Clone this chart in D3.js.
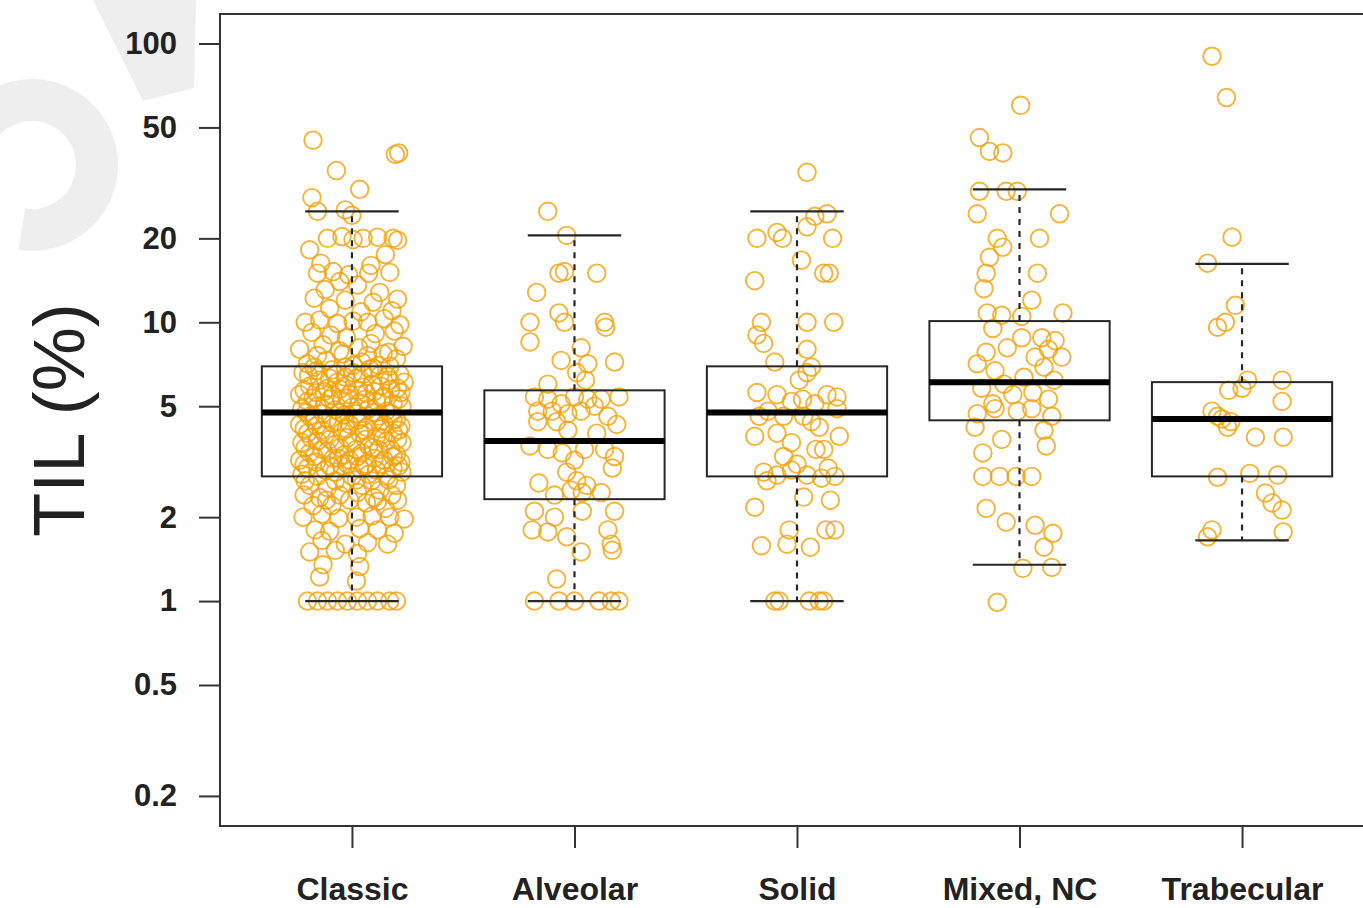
<!DOCTYPE html>
<html><head><meta charset="utf-8">
<script src="https://cdn.jsdelivr.net/npm/d3@7"></script>
<style>body{margin:0;background:#fff}svg{display:block}</style>
</head><body>
<svg id="chart" width="1363" height="908"></svg>
<script>
// Histologic subtypes along the x axis
const categories = ["Classic", "Alveolar", "Solid", "Mixed, NC", "Trabecular"];
// Log-axis tick values for TIL (%)
const yTicks = [0.2, 0.5, 1, 2, 5, 10, 20, 50, 100];
const yTickLabels = ["0.2", "0.5", "1", "2", "5", "10", "20", "50", "100"];
// Box summaries per subtype: [lower whisker, Q1, median, Q3, upper whisker]
const boxStats = [
  [1, 2.8, 4.75, 6.95, 25],
  [1, 2.32, 3.75, 5.7, 20.5],
  [1, 2.8, 4.75, 6.95, 25],
  [1.35, 4.45, 6.1, 10.1, 30],
  [1.65, 2.8, 4.5, 6.1, 16.2]
];
// Individual cases: [TIL %, horizontal jitter in category units]
const classicPts = [
  [45,-0.175],[40,0.195],[40.5,0.21],[35,-0.07],[30,0.035],[28,-0.18],[25,-0.155],[25.3,-0.03],[24.2,0.0],
  [20,-0.11],[20.3,-0.045],[19.8,0.005],[20,0.05],[20.2,0.115],[20,0.185],[19.7,0.205],
  [18.2,-0.19],[17.5,0.15],[16.3,-0.14],[16,0.085],
  [15,-0.155],[15.2,-0.085],[14.8,-0.015],[15,0.075],[15.1,0.17],
  [14,-0.055],[13.6,0.025],[13.1,-0.12],[12.8,0.125],
  [12.2,-0.17],[12,-0.03],[11.8,0.095],[12.1,0.205],
  [11.2,-0.1],[10.9,0.04],[11,0.18],
  [10,-0.21],[10.2,-0.145],[9.9,-0.065],[10.1,0.005],[10,0.07],[10.3,0.145],[9.8,0.215],
  [9.2,-0.18],[9,-0.095],[8.8,-0.025],[9.1,0.105],[9.3,0.19],
  [8,-0.235],[8.3,-0.13],[7.9,-0.055],[8.1,0.03],[8.4,0.085],[7.8,0.165],[8.2,0.23],
  [7.6,-0.155],[7.7,-0.04],[7.6,0.07],[7.7,0.14],
  [7.1,-0.2],[7.3,-0.115],[6.9,-0.03],[7.2,0.045],[7,0.12],[7.4,0.2],
  [6.9,-0.17],[6.75,-0.09],[7.0,0.005],[6.85,0.095],[6.95,0.17],
  [6.7,-0.16],[6.5,-0.075],[6.6,0.005],[6.8,0.08],[6.4,0.16],[6.6,-0.22],
  [6.45,-0.195],[6.35,-0.03],[6.5,0.05],[6.45,0.125],[6.5,0.215],
  [6.2,-0.145],[6.1,-0.065],[6.3,0.02],[6,0.09],[6.2,0.17],[6.1,0.235],[6.3,-0.1],
  [5.9,-0.19],[5.8,-0.11],[5.95,-0.025],[5.85,0.05],[5.9,0.13],[5.8,0.205],
  [5.7,-0.215],[5.65,-0.125],[5.75,-0.055],[5.7,0.03],[5.65,0.1],[5.75,0.175],
  [5.5,-0.235],[5.6,-0.16],[5.45,-0.085],[5.5,-0.01],[5.55,0.065],[5.4,0.145],[5.6,0.22],
  [5.35,-0.175],[5.3,-0.1],[5.35,-0.02],[5.3,0.06],[5.35,0.135],[5.3,0.21],
  [5.2,-0.2],[5.1,-0.12],[5.25,-0.045],[5.15,0.035],[5.2,0.11],[5.1,0.185],
  [4.9,-0.225],[5,-0.155],[4.85,-0.075],[4.95,0.0],[4.9,0.075],[4.8,0.155],[5,0.225],
  [4.75,-0.205],[4.7,-0.13],[4.75,-0.055],[4.7,0.02],[4.75,0.095],[4.7,0.175],
  [4.6,-0.19],[4.5,-0.11],[4.65,-0.035],[4.55,0.045],[4.6,0.12],[4.5,0.2],
  [4.45,-0.17],[4.4,-0.06],[4.45,0.025],[4.4,0.1],[4.45,0.185],
  [4.3,-0.235],[4.25,-0.16],[4.35,-0.085],[4.3,-0.01],[4.2,0.065],[4.3,0.145],[4.25,0.22],
  [4.15,-0.215],[4.1,-0.135],[4.15,-0.025],[4.1,0.055],[4.15,0.13],[4.1,0.21],
  [4,-0.2],[3.95,-0.12],[4.05,-0.045],[4,0.035],[3.9,0.11],[4,0.185],
  [3.85,-0.185],[3.8,-0.1],[3.85,-0.02],[3.8,0.06],[3.85,0.14],[3.8,0.205],
  [3.7,-0.225],[3.75,-0.155],[3.65,-0.075],[3.7,0.0],[3.6,0.075],[3.75,0.155],[3.7,0.225],
  [3.55,-0.21],[3.5,-0.135],[3.55,-0.055],[3.5,0.02],[3.55,0.095],[3.5,0.175],
  [3.4,-0.19],[3.45,-0.11],[3.35,-0.035],[3.4,0.045],[3.5,0.12],[3.35,0.2],
  [3.3,-0.17],[3.25,-0.06],[3.3,0.025],[3.25,0.1],[3.3,0.185],
  [3.2,-0.235],[3.15,-0.16],[3.25,-0.085],[3.2,-0.01],[3.1,0.065],[3.2,0.145],[3.15,0.22],
  [3.1,-0.215],[3.05,-0.1],[3.1,-0.02],[3.05,0.055],[3.1,0.13],[3.05,0.21],
  [3,-0.2],[2.95,-0.12],[3.05,-0.045],[3,0.035],[2.95,0.11],[3,0.185],
  [2.85,-0.225],[2.8,-0.155],[2.9,-0.075],[2.8,0.0],[2.85,0.075],[2.8,0.155],[2.9,0.225],
  [2.7,-0.21],[2.7,-0.075],[2.72,0.02],[2.7,0.09],[2.72,0.165],
  [2.6,-0.19],[2.55,-0.11],[2.65,-0.03],[2.6,0.045],[2.5,0.125],[2.6,0.2],
  [2.4,-0.215],[2.35,-0.145],[2.4,-0.055],[2.45,0.025],[2.35,0.1],[2.4,0.18],
  [2.3,-0.115],[2.3,-0.01],[2.28,0.115],[2.3,0.205],
  [2.2,-0.175],[2.2,-0.09],[2.25,0.065],[2.15,0.15],
  [2,-0.22],[2.05,-0.135],[1.98,-0.06],[2,0.02],[2.02,0.09],[2,0.17],[1.97,0.235],
  [1.8,-0.165],[1.78,-0.1],[1.82,0.035],[1.8,0.115],[1.75,0.19],
  [1.65,-0.135],[1.6,-0.03],[1.62,0.07],[1.6,0.16],
  [1.5,-0.19],[1.52,-0.075],[1.48,0.025],
  [1.35,-0.13],[1.33,0.035],[1.22,-0.145],[1.18,0.02],
  [1,-0.2],[1,-0.155],[1,-0.11],[1,-0.065],[1,-0.02],[1,0.025],[1,0.07],[1,0.115],[1,0.17],[1,0.2]
];
const alveolarPts = [
  [25,-0.12],[20.5,-0.035],[15,-0.07],[15.2,-0.045],[15,0.10],[12.8,-0.17],[10.8,-0.07],[10,-0.045],
  [10,0.135],[10,-0.2],[9.6,0.14],[8.5,-0.2],[8.1,0.03],[7.3,-0.06],[7.1,0.06],[7.2,0.18],[6.6,0.01],
  [6,-0.12],[6.2,0.05],
  [5.4,-0.18],[5.3,-0.12],[5.1,-0.06],[5.4,0.0],[5.3,0.06],[5.3,0.12],[5.4,0.2],[4.8,-0.165],[4.8,-0.1],
  [4.7,-0.03],[4.8,0.03],[4.4,-0.165],[4.4,-0.08],[4.3,0.19],[5,0.09],[4.6,0.15],[4.1,-0.03],[4.0,0.1],
  [3.5,-0.12],[3.4,-0.055],[3.5,0.045],[3.5,0.135],[3.3,0.18],[3.6,-0.2],[3.2,0.0],[3.0,0.17],[2.9,-0.035],
  [2.7,0.01],[2.6,0.055],[2.65,-0.16],[2.5,-0.015],[2.45,0.035],[2.45,0.12],[2.4,-0.09],
  [2.1,-0.18],[2.0,-0.09],[2.1,0.035],[2.1,0.18],[1.8,-0.19],[1.77,-0.12],[1.7,-0.035],[1.8,0.15],
  [1.6,0.165],[1.52,0.17],[1.5,0.03],[1.2,-0.08],
  [1,-0.18],[1,-0.07],[1,0.0],[1,0.11],[1,0.165],[1,0.2]
];
const solidPts = [
  [34.5,0.045],[24,0.08],[24.5,0.135],[20,-0.18],[21,-0.09],[20,-0.065],[20,0.16],[22,0.045],[16.7,0.02],
  [14.1,-0.19],[15,0.12],[15,0.145],[10,0.045],[10,0.165],[10,-0.16],[9,-0.18],[8.4,-0.15],[8,0.045],
  [6.9,0.065],[7.2,-0.1],[6.6,0.045],[6.2,0.01],
  [5.6,-0.18],[5.5,-0.09],[5.2,-0.025],[5.3,0.025],[5.1,0.08],[5.4,0.18],[5.5,0.135],[4.6,-0.17],
  [4.6,-0.06],[4.6,0.03],[4.4,0.065],[4.9,0.18],[4.8,-0.13],[3.9,-0.19],[4.0,-0.09],[3.7,-0.025],
  [3.5,0.085],[3.5,0.12],[3.9,0.19],[4.2,0.1],[3.3,-0.06],[3.1,0.0],
  [2.9,-0.15],[2.83,-0.09],[2.95,-0.025],[2.83,0.045],[2.76,0.11],[2.7,-0.135],[2.8,0.17],[3.0,0.14],
  [2.17,-0.19],[2.3,0.15],[2.36,0.03],[1.8,0.13],[1.8,0.17],[1.8,-0.035],[1.58,-0.16],[1.6,-0.045],
  [1.56,0.06],[1,-0.1],[1,-0.08],[1,0.055],[1,0.1],[1,0.12]
];
const mixedPts = [
  [60,0.005],[46,-0.18],[41,-0.135],[40.5,-0.075],[29.5,-0.18],[29.5,-0.06],[29.5,-0.01],[24.5,-0.19],
  [24.5,0.18],[20,-0.1],[20,0.09],[18.6,-0.075],[17.1,-0.135],[15,-0.15],[15,0.08],[13.2,-0.16],[12,0.055],
  [10.8,-0.145],[10.6,-0.08],[10.8,0.195],[10.5,0.01],
  [8.8,0.01],[8.8,0.1],[8.6,0.16],[8.1,-0.055],[7.1,-0.19],[7.5,0.07],[6.7,-0.11],[6.9,0.11],[7.5,0.19],
  [6,-0.07],[6.35,0.02],[6.2,0.155],[5.8,-0.17],[5.6,0.06],[5.3,0.13],[5.1,-0.12],[9.5,-0.12],[8,0.13],
  [7.8,-0.15],[5.5,-0.03],
  [4.7,-0.19],[4.9,-0.11],[4.8,-0.01],[4.9,0.055],[4.6,0.145],[4.1,0.11],[3.8,-0.08],[3.4,-0.165],
  [3.6,0.12],[4.2,-0.2],
  [2.8,-0.165],[2.8,-0.09],[2.8,-0.015],[2.8,0.055],[2.15,-0.15],[1.92,-0.06],[1.87,0.07],[1.75,0.15],
  [1.56,0.11],[1.31,0.015],[1.32,0.145],[0.99,-0.1]
];
const trabecularPts = [
  [90,-0.135],[64,-0.07],[20.2,-0.045],[16.3,-0.155],[11.5,-0.03],[9.6,-0.11],[10,-0.075],[6.2,0.025],
  [5.7,-0.06],[5.8,0.0],[6.2,0.18],[5.2,0.18],[4.8,-0.135],[4.6,-0.11],[4.2,-0.065],[3.87,0.06],
  [3.87,0.185],[4.5,-0.09],[2.78,-0.11],[2.87,0.035],[2.83,0.16],[2.44,0.105],[2.25,0.135],[2.12,0.18],
  [1.8,-0.135],[1.7,-0.155],[1.77,0.185],[4.4,-0.05]
];
const groupPoints = [classicPts, alveolarPts, solidPts, mixedPts, trabecularPts];

const svg = d3.select("#chart");
const plot = {left: 220, top: 14, right: 1374, bottom: 826};

// Faint background mark in the upper-left corner
const mark = svg.append("g").attr("fill", "#eeeeee");
mark.append("path")
  .attr("transform", "translate(32,165)")
  .attr("d", d3.arc()({innerRadius: 44, outerRadius: 86, startAngle: -0.95, endAngle: 3.3}));
mark.append("path").attr("d", "M93,0 L196,0 L194,88 L143,101 Z");

const x = d3.scaleLinear().domain([0.407, 5.593]).range([plot.left, plot.right]);
const y = d3.scaleLog().domain([0.156, 127.6]).range([plot.bottom, plot.top]);

const ink = "#262626";

// Jittered observations
const pts = svg.append("g");
groupPoints.forEach((arr, i) => {
  pts.selectAll(null).data(arr).enter().append("circle")
    .attr("cx", d => x(i + 1 + d[1]))
    .attr("cy", d => y(d[0]))
    .attr("r", 8.8)
    .attr("fill", "none")
    .attr("stroke", "#f2a20f")
    .attr("stroke-opacity", 0.82)
    .attr("stroke-width", 1.9);
});

// Box plots
const bw = 0.405, cap = 0.21;
const boxes = svg.append("g").selectAll("g").data(boxStats).enter().append("g");
boxes.append("line")
  .attr("x1", (d, i) => x(i + 1)).attr("x2", (d, i) => x(i + 1))
  .attr("y1", d => y(d[3])).attr("y2", d => y(d[4]))
  .attr("stroke", ink).attr("stroke-width", 2.2).attr("stroke-dasharray", "6,6");
boxes.append("line")
  .attr("x1", (d, i) => x(i + 1)).attr("x2", (d, i) => x(i + 1))
  .attr("y1", d => y(d[1])).attr("y2", d => y(d[0]))
  .attr("stroke", ink).attr("stroke-width", 2.2).attr("stroke-dasharray", "6,6");
[0, 4].forEach(k => {
  boxes.append("line")
    .attr("x1", (d, i) => x(i + 1 - cap)).attr("x2", (d, i) => x(i + 1 + cap))
    .attr("y1", d => y(d[k])).attr("y2", d => y(d[k]))
    .attr("stroke", ink).attr("stroke-width", 2.2);
});
boxes.append("rect")
  .attr("x", (d, i) => x(i + 1 - bw))
  .attr("width", (d, i) => x(i + 1 + bw) - x(i + 1 - bw))
  .attr("y", d => y(d[3]))
  .attr("height", d => y(d[1]) - y(d[3]))
  .attr("fill", "none").attr("stroke", ink).attr("stroke-width", 2);
boxes.append("line")
  .attr("x1", (d, i) => x(i + 1 - bw)).attr("x2", (d, i) => x(i + 1 + bw))
  .attr("y1", d => y(d[2])).attr("y2", d => y(d[2]))
  .attr("stroke", "#000").attr("stroke-width", 6);

// Plot frame (right edge runs past the canvas)
svg.append("path")
  .attr("d", `M${plot.right},${plot.top} H${plot.left} V${plot.bottom} H${plot.right}`)
  .attr("fill", "none").attr("stroke", "#333").attr("stroke-width", 2);

// Y axis
const yAxis = svg.append("g")
  .attr("transform", `translate(${plot.left},0)`)
  .call(d3.axisLeft(y).tickValues(yTicks).tickFormat((d, i) => yTickLabels[i]).tickSize(21).tickPadding(22));
yAxis.select(".domain").remove();
yAxis.selectAll(".tick line").attr("stroke", "#333").attr("stroke-width", 2);
yAxis.selectAll(".tick text")
  .attr("fill", "#222")
  .style("font-family", "'Liberation Sans', Arial, sans-serif")
  .style("font-weight", "bold")
  .style("font-size", "31px");

// X axis
const xAxis = svg.append("g")
  .attr("transform", `translate(0,${plot.bottom})`)
  .call(d3.axisBottom(x).tickValues([1, 2, 3, 4, 5]).tickFormat(d => categories[d - 1]).tickSize(22).tickPadding(29));
xAxis.select(".domain").remove();
xAxis.selectAll(".tick line").attr("stroke", "#333").attr("stroke-width", 2);
xAxis.selectAll(".tick text")
  .attr("fill", "#222")
  .style("font-family", "'Liberation Sans', Arial, sans-serif")
  .style("font-weight", "bold")
  .style("font-size", "32px");

// Y axis title
svg.append("text")
  .attr("transform", "translate(84,420) rotate(-90)")
  .attr("text-anchor", "middle")
  .style("font-family", "'Liberation Sans', Arial, sans-serif")
  .style("font-size", "72px")
  .attr("fill", "#222")
  .text("TIL (%)");
</script>
</body></html>
